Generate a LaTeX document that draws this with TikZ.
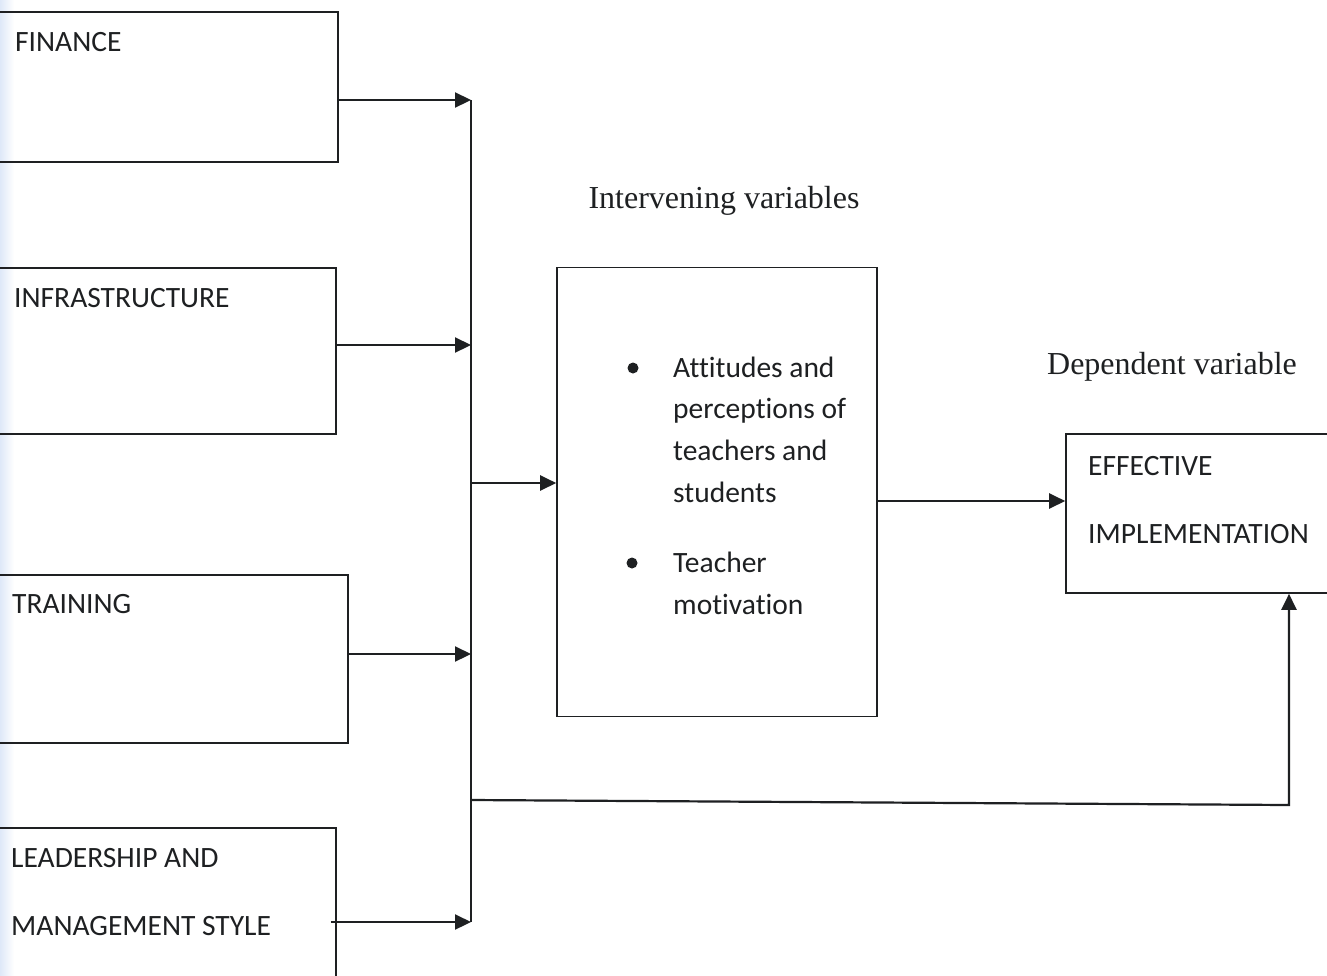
\documentclass[tikz,border=0pt]{standalone}
\usepackage{fontspec}
\setmainfont{Liberation Serif}
\newfontfamily\calfont[Ligatures=NoCommon]{Carlito}
\usetikzlibrary{arrows.meta}
\definecolor{scanblue}{RGB}{222,232,248}
\definecolor{ink}{RGB}{30,32,34}
\begin{document}
\begin{tikzpicture}[x=1pt,y=-1pt,
  box/.style={draw=ink,line width=1.6pt,rectangle,inner sep=0pt},
  lbl/.style={anchor=base west,inner sep=0pt,font=\calfont\fontsize{29.5}{34}\selectfont,text=ink},
  ttl/.style={anchor=base,inner sep=0pt,font=\fontsize{32}{38}\selectfont,text=ink},
  arr/.style={draw=ink,line width=2.2pt,-{Triangle[length=16pt,width=15pt]}},
  ln/.style={draw=ink,line width=2.2pt}]
\useasboundingbox (0,0) rectangle (1327,975);
\fill[white] (0,0) rectangle (1327,975);
\shade[left color=scanblue,right color=white] (0,0) rectangle (14,975);
% left boxes
\node[box,minimum width=358pt,minimum height=150pt] (fin) at (159,87) {};
\node[box,minimum width=356pt,minimum height=166pt] (inf) at (158,351) {};
\node[box,minimum width=368pt,minimum height=168pt] (tra) at (164,659) {};
\node[box,minimum width=356pt,minimum height=180pt] (lea) at (158,918) {};
\node[lbl] (tfin) at (15,51) {FINANCE};
\node[lbl] (tinf) at (14,307) {INFRASTRUCTURE};
\node[lbl] (ttra) at (12,613) {TRAINING};
\node[lbl] (tlea1) at (11,867) {LEADERSHIP AND};
\node[lbl] (tlea2) at (11,935) {MANAGEMENT STYLE};
% middle box
\node[box,minimum width=320pt,minimum height=449pt] (mid) at (717,492) {};
\node[ttl] (tint) at (724,208) {Intervening variables};
\node[lbl] (m1) at (673,377) {Attitudes and};
\node[lbl] (m2) at (673,418) {perceptions of};
\node[lbl] (m3) at (673,460) {teachers and};
\node[lbl] (m4) at (673,502) {students};
\node[lbl] (m5) at (673,572) {Teacher};
\node[lbl] (m6) at (673,614) {motivation};
\fill[ink] (633,368) circle (5.5pt);
\fill[ink] (632,563) circle (5.5pt);
% dependent box
\node[box,minimum width=300pt,minimum height=159pt] (eff) at (1216,513.5) {};
\node[ttl] (tdep) at (1172,374) {Dependent variable};
\node[lbl] (te1) at (1088,475) {EFFECTIVE};
\node[lbl] (te2) at (1088,543) {IMPLEMENTATION};
% bus
\coordinate (b1) at (471,100);
\coordinate (b2) at (471,345);
\coordinate (b3) at (471,483);
\coordinate (b4) at (471,654);
\coordinate (b5) at (471,800);
\coordinate (b6) at (471,922);
\coordinate (c5) at (1289,805);
\coordinate (d1) at (877,501);
\draw[ln] (b1) -- (b6);
\draw[arr] (fin.east |- b1) -- (b1);
\draw[arr] (inf.east |- b2) -- (b2);
\draw[arr] (tra.east |- b4) -- (b4);
\draw[arr] ([xshift=-6pt]lea.east |- b6) -- (b6);
\draw[arr] (b3) -- (mid.west |- b3);
\draw[arr] (d1) -- (eff.west |- d1);
\draw[arr] (b5) -- (c5) -- (c5 |- eff.south);
\end{tikzpicture}
\end{document}
